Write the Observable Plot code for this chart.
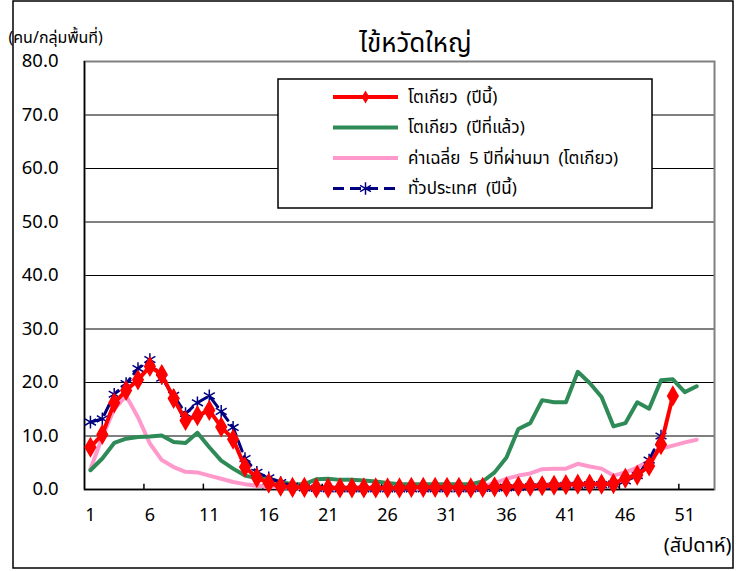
<!DOCTYPE html>
<html>
<head>
<meta charset="utf-8">
<script src="https://cdn.jsdelivr.net/npm/d3@7"></script>
<script src="https://cdn.jsdelivr.net/npm/@observablehq/plot@0.6"></script>
<style>
  html, body { margin: 0; padding: 0; background: #fff; }
  #chart { width: 736px; height: 571px; }
  svg { font-family: "Noto Sans Thai", "Loma", "Garuda", "Tlwg Typo", "Laksaman", "Noto Sans", sans-serif; }
</style>
</head>
<body>
<div id="chart"></div>
<script>
const titleText = "ไข้หวัดใหญ่";
const yLabelText = "(คน/กลุ่มพื้นที่)";
const xLabelText = "(สัปดาห์)";
const seriesNames = ["โตเกียว  (ปีนี้)", "โตเกียว  (ปีที่แล้ว)", "ค่าเฉลี่ย  5 ปีที่ผ่านมา  (โตเกียว)", "ทั่วประเทศ  (ปีนี้)"];

const weeks = [1,2,3,4,5,6,7,8,9,10,11,12,13,14,15,16,17,18,19,20,21,22,23,24,25,26,
  27,28,29,30,31,32,33,34,35,36,37,38,39,40,41,42,43,44,45,46,47,48,49,50,51,52];
const xTicks = [1,6,11,16,21,26,31,36,41,46,51];
const xTickMarks = [5.5,10.5,15.5,20.5,25.5,30.5,35.5,40.5,45.5,50.5];
const yTicks = [0,10,20,30,40,50,60,70,80];

// Tokyo, this year (weeks 1-50)
const tokyoThisYear = [7.9,10.3,16.2,18.5,20.5,23.0,21.5,17.0,12.9,13.8,14.8,11.7,9.4,4.2,2.2,1.2,0.6,0.4,0.4,0.3,
  0.3,0.3,0.3,0.3,0.3,0.3,0.3,0.4,0.4,0.4,0.4,0.4,0.3,0.4,0.5,0.5,0.6,0.6,0.7,0.8,
  0.9,1.0,1.0,1.0,1.1,2.1,2.7,4.4,8.4,17.5];
// Tokyo, last year (weeks 1-52)
const tokyoLastYear = [3.6,5.8,8.7,9.5,9.8,9.9,10.1,8.9,8.7,10.6,7.9,5.4,3.9,2.6,2.1,2.0,1.4,1.0,1.0,1.9,
  2.0,1.8,1.8,1.7,1.5,1.2,1.0,1.0,1.0,1.0,1.0,1.0,1.0,1.5,3.2,6.0,11.3,12.4,16.7,16.3,
  16.3,22.0,19.9,17.3,11.8,12.4,16.3,15.1,20.4,20.6,18.2,19.3];
// Tokyo, 5-year average (weeks 1-52)
const tokyo5YearAvg = [3.8,9.8,15.0,17.5,13.5,8.6,5.5,4.2,3.3,3.2,2.6,2.0,1.4,1.0,0.7,0.5,0.4,0.3,0.3,0.3,
  0.3,0.3,0.3,0.3,0.3,0.3,0.3,0.3,0.3,0.3,0.3,0.3,0.3,0.6,1.2,2.0,2.6,3.0,3.8,3.9,
  3.9,4.8,4.3,3.9,2.6,3.2,4.1,5.4,7.6,8.2,8.8,9.3];
// Nationwide, this year (weeks 1-49)
const nationThisYear = [12.6,13.2,17.8,19.8,22.6,24.3,20.8,17.6,14.2,16.2,17.5,14.6,11.6,5.8,3.2,2.2,1.3,0.6,0.3,0.2,
  0.1,0.1,0.1,0.1,0.1,0.1,0.1,0.1,0.1,0.1,0.1,0.1,0.1,0.2,0.2,0.3,0.4,0.5,0.6,0.7,
  0.8,0.8,0.9,0.9,1.0,1.6,2.6,5.5,10.0];

const toRows = (vals) => vals.map((v, i) => ({week: weeks[i], value: v}));
const red = toRows(tokyoThisYear);
const green = toRows(tokyoLastYear);
const pink = toRows(tokyo5YearAvg);
const blue = toRows(nationThisYear);

const colRed = "#FF0000", colGreen = "#2E8B57", colPink = "#FF99CC", colBlue = "#000080";

const chart = Plot.plot({
  width: 736,
  height: 571,
  marginLeft: 84,
  marginRight: 22,
  marginTop: 61,
  marginBottom: 82,
  style: {fontFamily: '"Noto Sans Thai", "Loma", "Garuda", "Noto Sans", sans-serif', background: "#fff"},
  x: {domain: [0.5, 53.5]},
  y: {domain: [0, 80]},
  marks: [
    Plot.ruleY(yTicks.filter(d => d > 0 && d < 80), {stroke: "#000", strokeWidth: 1}),
    Plot.frame({stroke: "#808080", strokeWidth: 2}),
    Plot.ruleX([0.5], {stroke: "#000", strokeWidth: 1.5}),
    Plot.ruleY([0], {stroke: "#000", strokeWidth: 1.5}),
    Plot.ruleX(xTickMarks, {y1: 0, y2: 1, stroke: "#000", strokeWidth: 1.5}),
    Plot.axisX({ticks: xTicks, tickSize: 0, tickPadding: 19, label: null, fontSize: 18, fill: "#000"}),
    Plot.axisY({ticks: yTicks, tickSize: 0, tickPadding: 26, tickFormat: d3.format(".1f"), label: null,
      fontSize: 18.5, fontFamily: '"Noto Sans", sans-serif', fill: "#000"}),
    Plot.line(pink, {x: "week", y: "value", stroke: colPink, strokeWidth: 4}),
    Plot.line(green, {x: "week", y: "value", stroke: colGreen, strokeWidth: 4}),
    Plot.line(blue, {x: "week", y: "value", stroke: colBlue, strokeWidth: 3, strokeDasharray: "11,6"}),
    Plot.dot(blue, {x: "week", y: "value", symbol: "asterisk", r: 6, stroke: colBlue, strokeWidth: 1.5}),
    Plot.line(red, {x: "week", y: "value", stroke: colRed, strokeWidth: 4}),
    Plot.dot(red, {x: "week", y: "value", symbol: "diamond", r: 5.5, fill: colRed, stroke: colRed}),
    Plot.text([titleText], {frameAnchor: "top", dx: 16, dy: -28, fontSize: 26, fill: "#000"}),
    Plot.text([yLabelText], {frameAnchor: "top-left", dx: -76, dy: -30, textAnchor: "start", fontSize: 16, fill: "#000"}),
    Plot.text([xLabelText], {frameAnchor: "bottom-right", dx: 17, dy: 62, textAnchor: "end", fontSize: 20, fill: "#000"})
  ]
});

const svg = d3.select(chart);
// outer border
svg.append("rect").attr("x", 13).attr("y", 1).attr("width", 720).attr("height", 567)
  .attr("fill", "none").attr("stroke", "#000").attr("stroke-width", 1.5);

// legend
const legendSpec = [
  {name: seriesNames[0], color: colRed, width: 4, dash: null, marker: "diamond"},
  {name: seriesNames[1], color: colGreen, width: 4, dash: null, marker: null},
  {name: seriesNames[2], color: colPink, width: 4, dash: null, marker: null},
  {name: seriesNames[3], color: colBlue, width: 3, dash: "11,6", marker: "star"}
];
const lg = svg.append("g");
lg.append("rect").attr("x", 278).attr("y", 79).attr("width", 374).attr("height", 129)
  .attr("fill", "#fff").attr("stroke", "#000").attr("stroke-width", 1.5);
legendSpec.forEach((s, i) => {
  const y = 97 + i * 30.5;
  const g = lg.append("g");
  g.append("line").attr("x1", 333).attr("x2", 398).attr("y1", y).attr("y2", y)
    .attr("stroke", s.color).attr("stroke-width", s.width).attr("stroke-dasharray", s.dash);
  if (s.marker === "diamond") {
    g.append("path").attr("transform", `translate(365.5,${y})`)
      .attr("d", d3.symbol(d3.symbolDiamond, 50)()).attr("fill", s.color);
  } else if (s.marker === "star") {
    g.append("path").attr("transform", `translate(365.5,${y})`)
      .attr("d", d3.symbol(d3.symbolAsterisk, 110)()).attr("fill", "none")
      .attr("stroke", s.color).attr("stroke-width", 1.5);
  }
  g.append("text").attr("x", 408).attr("y", y).attr("dy", "0.35em")
    .attr("text-anchor", "start").style("white-space", "pre")
    .attr("font-size", 17).attr("fill", "#000").text(s.name);
});

document.getElementById("chart").appendChild(chart);
</script>
</body>
</html>
